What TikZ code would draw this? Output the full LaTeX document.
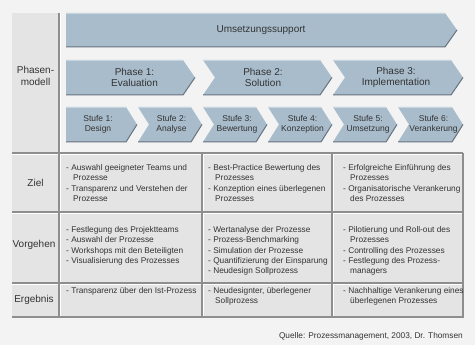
\documentclass[tikz,border=0pt]{standalone}
\usepackage{fontspec}
\setmainfont{Liberation Sans}
\definecolor{bg}{HTML}{F3F3F3}
\definecolor{cell}{HTML}{E4E4E4}
\definecolor{arr}{HTML}{A9BCCB}
\definecolor{arrdark}{HTML}{66737E}
\definecolor{arrlight}{HTML}{C9D6E0}
\definecolor{gridc}{HTML}{8E8E8E}
\definecolor{txt}{HTML}{333333}
\newcommand\plainarrow[5]{%
  \fill[arr] (#1,#3) -- ({#2-#5},#3) -- (#2,{(#3+#4)/2}) -- ({#2-#5},#4) -- (#1,#4) -- cycle;
  \draw[arrdark,line width=1pt] (#1,#4) -- ({#2-#5},#4) -- (#2,{(#3+#4)/2});
  \draw[arrlight,line width=0.8pt] (#1,{#3+0.4}) -- ({#2-#5},{#3+0.4});
}
\newcommand\notcharrow[5]{%
  \fill[arr] (#1,#3) -- ({#2-#5},#3) -- (#2,{(#3+#4)/2}) -- ({#2-#5},#4) -- (#1,#4) -- ({#1+#5},{(#3+#4)/2}) -- cycle;
  \draw[arrdark,line width=1pt] (#1,#4) -- ({#2-#5},#4) -- (#2,{(#3+#4)/2});
  \draw[arrlight,line width=0.8pt] (#1,{#3+0.4}) -- ({#2-#5},{#3+0.4});
}
\begin{document}
\begin{tikzpicture}[x=1pt,y=-1pt,
  lbl/.style={text=txt,font=\fontsize{10}{11.3}\selectfont,align=center,inner sep=0},
  stufetxt/.style={text=txt,font=\fontsize{8.5}{10.3}\selectfont,align=center,inner sep=0},
  cellt/.style={text=txt,font=\fontsize{8.3}{10.3}\selectfont,align=left,inner sep=0,anchor=north west},
  gridl/.style={gridc,line width=1.1pt},
  hil/.style={white,line width=0.8pt}]
\fill[bg] (0,0) rectangle (475,345);
\useasboundingbox (0,0) rectangle (475,345);
% left column and table fills
\fill[cell] (12,13) rectangle (59,317);
\fill[cell] (59,153) rectangle (463,317);
% arrows
\plainarrow{66}{457}{13}{47}{12}
\plainarrow{66}{195}{60}{95}{12}
\notcharrow{203}{332}{60}{95}{12}
\notcharrow{333}{463}{60}{95}{12}
\plainarrow{66}{137}{107}{142}{11}
\notcharrow{138}{202}{107}{142}{11}
\notcharrow{203}{267}{107}{142}{11}
\notcharrow{268}{332}{107}{142}{11}
\notcharrow{333}{397}{107}{142}{11}
\notcharrow{398}{463}{107}{142}{11}
% grid lines
\draw[hil] (12,154.2) -- (463,154.2);
\draw[hil] (12,213.2) -- (463,213.2);
\draw[hil] (12,284.2) -- (463,284.2);
\draw[hil] (60.2,13) -- (60.2,317);
\draw[hil] (203.2,154) -- (203.2,317);
\draw[hil] (333.2,154) -- (333.2,317);
\draw[gridl] (12,153) -- (463,153);
\draw[gridl] (12,212) -- (463,212);
\draw[gridl] (12,283) -- (463,283);
\draw[gridl] (59,13) -- (59,317);
\draw[gridl] (202,153) -- (202,317);
\draw[gridl] (332,153) -- (332,317);
\draw[gridl] (463,153) -- (463,317.7);
\draw[gridc,line width=1.5pt] (12,317) -- (463.5,317);
% arrow texts
\node[lbl] (ums) at (261,30) {Umsetzungssupport};
\node[lbl] (ph1) at (134.5,77.5) {Phase 1:\\Evaluation};
\node[lbl] (ph2) at (263,77.5) {Phase 2:\\Solution};
\node[lbl] (ph3) at (396,77.5) {Phase 3:\\Implementation};
\node[stufetxt] (s1) at (98,124) {Stufe 1:\\Design};
\node[stufetxt] (s2) at (171.5,124) {Stufe 2:\\Analyse};
\node[stufetxt] (s3) at (237,124) {Stufe 3:\\Bewertung};
\node[stufetxt] (s4) at (302.5,124) {Stufe 4:\\Konzeption};
\node[stufetxt] (s5) at (368,124) {Stufe 5:\\Umsetzung};
\node[stufetxt] (s6) at (433.5,124) {Stufe 6:\\Verankerung};
% row labels
\node[lbl] (phm) at (35.5,76) {Phasen-\\modell};
\node[lbl] (ziel) at (35.5,183) {Ziel};
\node[lbl] (vorg) at (34,245) {Vorgehen};
\node[lbl] (erg) at (34,300) {Ergebnis};
% cell texts
\node[cellt] (z1) at (66,163) {\strut- Auswahl geeigneter Teams und\\\hspace*{7pt}Prozesse\\- Transparenz und Verstehen der\\\hspace*{7pt}Prozesse};
\node[cellt] (z2) at (208,163) {\strut- Best-Practice Bewertung des\\\hspace*{7pt}Prozesses\\- Konzeption eines überlegenen\\\hspace*{7pt}Prozesses};
\node[cellt] (z3) at (343,163) {\strut- Erfolgreiche Einführung des\\\hspace*{7pt}Prozesses\\- Organisatorische Verankerung\\\hspace*{7pt}des Prozesses};
\node[cellt] (v1) at (66,225) {\strut- Festlegung des Projektteams\\- Auswahl der Prozesse\\- Workshops mit den Beteiligten\\- Visualisierung des Prozesses};
\node[cellt] (v2) at (208,225) {\strut- Wertanalyse der Prozesse\\- Prozess-Benchmarking\\- Simulation der Prozesse\\- Quantifizierung der Einsparung\\- Neudesign Sollprozess};
\node[cellt] (v3) at (343,225) {\strut- Pilotierung und Roll-out des\\\hspace*{7pt}Prozesses\\- Controlling des Prozesses\\- Festlegung des Prozess-\\\hspace*{7pt}managers};
\node[cellt] (e1) at (66,286) {\strut- Transparenz über den Ist-Prozess};
\node[cellt] (e2) at (208,286) {\strut- Neudesignter, überlegener\\\hspace*{7pt}Sollprozess};
\node[cellt] (e3) at (343,286) {\strut- Nachhaltige Verankerung eines\\\hspace*{7pt}überlegenen Prozesses};
% source
\node[anchor=base east,inner sep=0,text=txt,font=\fontsize{8.3}{10}\selectfont] (src) at (463,338) {Quelle: Prozessmanagement, 2003, Dr. Thomsen};
\end{tikzpicture}
\end{document}
